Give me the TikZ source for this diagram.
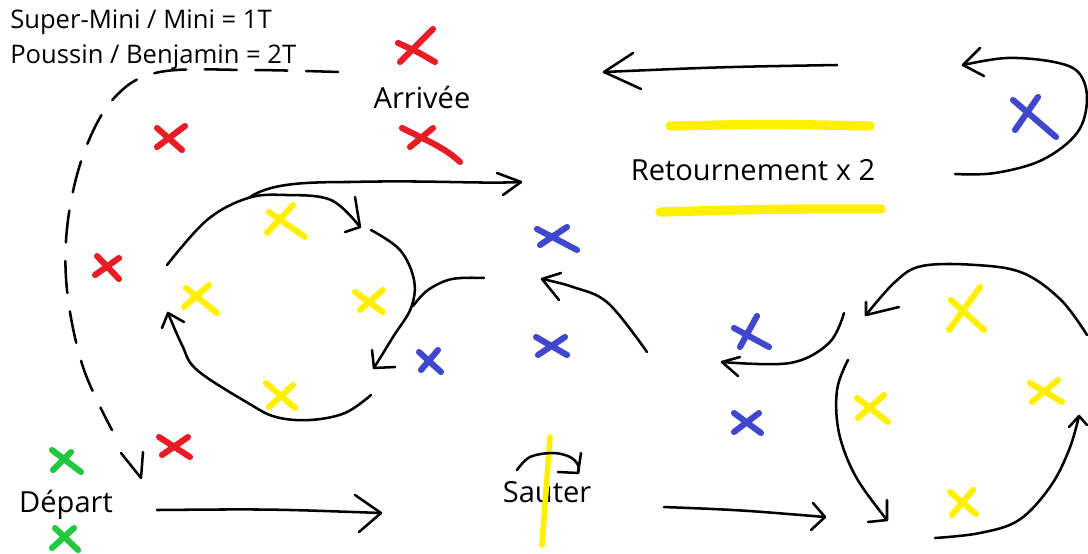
\documentclass[tikz,border=0pt]{standalone}
\usepackage{fontspec}
\setmainfont{Open Sans}
\definecolor{xred}{HTML}{E81C24}
\definecolor{xyellow}{HTML}{FFF000}
\definecolor{xblue}{HTML}{3F47CC}
\definecolor{xgreen}{HTML}{22C83C}
\begin{document}
\begin{tikzpicture}[x=0.75pt,y=-0.75pt,
  pen/.style={line width=1.9pt,line cap=round,line join=round,draw=black},
  dashpen/.style={pen,dash pattern=on 24pt off 14pt},
  redx/.style={line width=4.6pt,line cap=round,draw=xred},
  yellowx/.style={line width=4.6pt,line cap=round,draw=xyellow},
  bluex/.style={line width=4.6pt,line cap=round,draw=xblue},
  greenx/.style={line width=4.6pt,line cap=round,draw=xgreen},
  hiline/.style={line width=7pt,line cap=round,draw=xyellow},
  legendtxt/.style={font=\fontsize{19.2}{22}\selectfont,inner sep=0pt,anchor=base west},
  lbl/.style={font=\fontsize{21.8}{25}\selectfont,inner sep=0pt,anchor=base}]
\useasboundingbox (0,0) rectangle (1088,553);
\fill[white] (0,0) rectangle (1088,553);

% --- labels
\node[legendtxt] (legend1) at (10,28) {Super-Mini / Mini = 1T};
\node[legendtxt] (legend2) at (10,63) {Poussin / Benjamin = 2T};
\node[lbl] (arrivee) at (422,108) {Arrivée};
\node[lbl] (retour) at (753,180) {Retournement x 2};
\node[lbl] (depart) at (66,512) {Départ};
\node[lbl] (sauter) at (547,502) {Sauter};

% --- highlight bars around the turn-over label
\draw[hiline] (670,126) .. controls (770,124) .. (870,126);
\draw[hiline] (660,212) .. controls (770,209) .. (881,209);
% jump obstacle
\draw[line width=4.2pt,line cap=round,draw=xyellow] (550,437) -- (542,545);

% --- red markers
\draw[redx] (433,29) .. controls (418,44) .. (400,62) (398,43) .. controls (418,52) .. (435,62);
\draw[redx] (433,128) -- (410,147) (402,128) .. controls (430,142) and (445,148) .. (460,162);
\draw[redx] (185,126) -- (157,147) (157,128) -- (182,150);
\draw[redx] (119,258) -- (95,275) (97,256) -- (119,279);
\draw[redx] (188,437) -- (162,455) (159,437) -- (190,457);

% --- green markers
\draw[greenx] (71,452) -- (53,470) (52,450) -- (81,472);
\draw[greenx] (74,528) -- (52,548) (55,528) -- (78,550);

% --- yellow markers, left loop
\draw[yellowx] (293,205) -- (267,233) (269,212) -- (305,237);
\draw[yellowx] (209,285) -- (184,307) (186,288) -- (217,313);
\draw[yellowx] (383,290) -- (360,310) (355,292) -- (383,312);
\draw[yellowx] (293,385) -- (269,407) (266,383) -- (295,408);
% yellow markers, right loop
\draw[yellowx] (980,287) -- (949,330) (951,300) -- (984,330);
\draw[yellowx] (884,395) -- (858,418) (857,398) -- (888,422);
\draw[yellowx] (1058,380) -- (1032,402) (1030,383) -- (1062,402);
\draw[yellowx] (973,490) -- (952,515) (950,492) -- (976,514);

% --- blue markers
\draw[bluex] (567,227) -- (540,245) (537,229) -- (577,250);
\draw[bluex] (565,337) -- (538,355) (536,337) -- (567,355);
\draw[bluex] (438,350) -- (421,370) (419,352) -- (441,372);
\draw[bluex] (757,316) -- (740,347) (734,328) -- (769,347);
\draw[bluex] (759,413) -- (734,432) (734,413) -- (761,433);
\draw[bluex] (1038,97) -- (1015,130) (1013,100) -- (1056,137);

% --- dashed route from the finish back to the start
\draw[dashpen] plot[smooth,tension=0.6] coordinates
  {(338,72) (250,70) (160,72) (115,97) (85,150) (68,220) (67,290) (83,367) (112,430)};
\coordinate (dtip) at (141,478);
\draw[pen] (121,453) -- (dtip) -- (143,452);

% --- start straight
\coordinate (s1) at (157,510);
\coordinate (s1t) at (381,513);
\draw[pen] (s1) .. controls (270,509) .. (s1t);
\draw[pen] (355,495) -- (s1t) -- (359,532);

% --- left loop
\coordinate (ltop) at (360,227);
\draw[pen] plot[smooth,tension=0.6] coordinates
  {(167,265) (207,220) (248,198) (286,195) (331,200) (ltop)};
\draw[pen] (355,197) -- (ltop) -- (345,232);
\coordinate (lright) at (374,368);
\draw[pen] plot[smooth,tension=0.6] coordinates
  {(371,230) (400,250) (414,280) (411,308) (393,337) (lright)};
\draw[pen] (372,350) -- (lright) -- (395,367);
\draw[pen] plot[smooth,tension=0.6] coordinates {(484,278) (452,279) (428,290) (413,306)};
\coordinate (lbot) at (168,313);
\draw[pen] plot[smooth,tension=0.6] coordinates
  {(371,395) (345,413) (310,420) (276,417) (248,403) (197,370) (182,345) (lbot)};
\draw[pen] (162,328) -- (lbot) -- (184,322);

% exit of the left loop towards the middle
\coordinate (ext) at (521,182);
\draw[pen] (250,197) .. controls (270,184) and (300,182) .. (350,182) .. controls (430,180) and (480,184) .. (ext);
\draw[pen] (497,173) -- (ext) -- (503,195);

% --- middle return
\coordinate (mtip) at (542,279);
\draw[pen] plot[smooth,tension=0.6] coordinates {(647,352) (608,303) (573,287) (mtip)};
\draw[pen] (561,273) -- (mtip) -- (559,300);

% --- top straight (return)
\coordinate (ttip) at (604,72);
\draw[pen] (837,65) .. controls (720,67) .. (ttip);
\draw[pen] (633,53) -- (ttip) -- (641,89);

% --- right U-turn
\coordinate (utip) at (963,65);
\draw[pen] plot[smooth,tension=0.6] coordinates
  {(955,174) (995,173) (1042,160) (1077,133) (1087,100) (1079,73) (1054,62) (1007,58) (utip)};
\draw[pen] (980,48) -- (utip) -- (984,76);

% --- jump arc
\coordinate (jtip) at (578,473);
\draw[pen] plot[smooth,tension=0.6] coordinates {(517,470) (530,457) (553,453) (570,457) (578,465) (jtip)};
\draw[pen] (581,453) -- (jtip) -- (558,472);

% --- second straight
\coordinate (s2t) at (825,517);
\draw[pen] (664,507) .. controls (740,510) .. (s2t);
\draw[pen] (813,503) -- (s2t) -- (811,530);

% --- right loop
\coordinate (rl) at (887,520);
\draw[pen] plot[smooth,tension=0.6] coordinates
  {(848,360) (837,390) (839,433) (856,477) (rl)};
\draw[pen] (887,500) -- (rl) -- (868,522);
\coordinate (rb) at (1079,416);
\draw[pen] plot[smooth,tension=0.6] coordinates
  {(935,538) (980,533) (1019,520) (1050,487) (1069,450) (rb)};
\draw[pen] (1069,427) -- (rb) -- (1087,425);
\coordinate (rt) at (866,315);
\draw[pen] plot[smooth,tension=0.6] coordinates
  {(1087,335) (1061,300) (1023,273) (976,265) (922,266) (895,282) (rt)};
\draw[pen] (866,302) -- (rt) -- (899,307);
\coordinate (rx) at (722,362);
\draw[pen] plot[smooth,tension=0.6] coordinates {(844,313) (829,343) (790,363) (rx)};
\draw[pen] (740,357) -- (rx) -- (738,376);
\end{tikzpicture}
\end{document}
